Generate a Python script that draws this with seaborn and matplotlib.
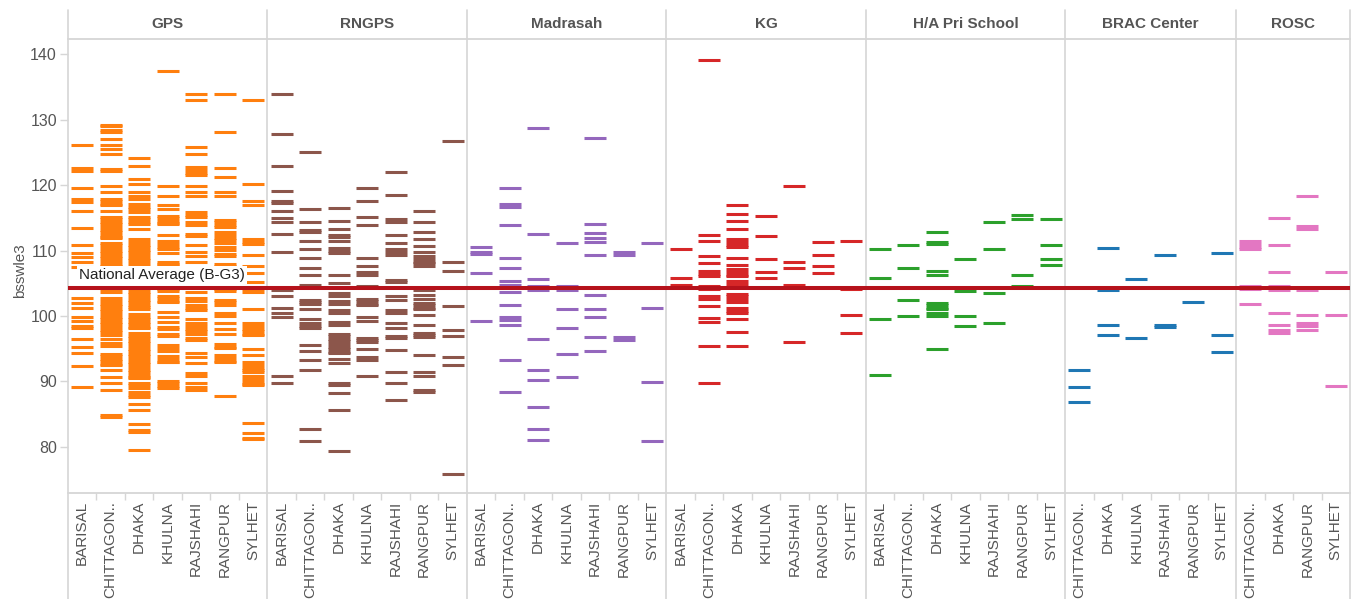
import warnings

import matplotlib
matplotlib.use("Agg")
import matplotlib.pyplot as plt
from matplotlib.lines import Line2D
import pandas as pd
import seaborn as sns

warnings.filterwarnings("ignore")

# ---- data: bsswle3 scores per school, grouped by school type and division ----
school_types = ["GPS", "RNGPS", "Madrasah", "KG", "H/A Pri School", "BRAC Center", "ROSC"]
type_colors = ["#ff7f0e", "#8c564b", "#9467bd", "#d62728", "#2ca02c", "#1f77b4", "#e377c2"]

gps = {
    "BARISAL": [126.2, 122.6, 122.1, 119.5, 117.9, 117.4, 116.0, 113.4, 110.8, 109.6, 109.0, 108.2,
                107.5, 102.7, 102.0, 101.2, 99.9, 99.3, 98.5, 98.1, 96.4, 95.3, 94.3, 92.3, 89.1],
    "CHITTAGONG": [129.2, 129.0, 128.4, 128.1, 127.0, 126.2, 125.5, 124.7, 122.5, 122.1, 119.8, 119.0,
                   117.95, 117.55, 117.15, 116.9, 116.1, 115.2, 114.8, 114.4, 114.0, 113.6, 113.2,
                   112.8, 112.4, 112.0, 111.85, 111.2, 110.8, 110.4, 110.0, 109.6, 109.2, 108.8,
                   108.4, 108.0, 107.7, 104.1, 103.7, 102.7, 102.3, 101.9, 101.5, 101.1, 100.7,
                   100.3, 99.9, 99.5, 99.1, 98.7, 98.3, 97.9, 97.5, 97.1, 96.4, 95.9, 95.4, 94.25,
                   93.85, 93.45, 93.05, 92.65, 92.5, 91.7, 90.7, 89.8, 88.6, 84.9, 84.5],
    "DHAKA": [124.2, 123.0, 121.0, 120.1, 119.0, 118.3, 117.95, 117.1, 116.7, 116.3, 115.9, 115.2,
              114.8, 114.4, 114.05, 113.3, 111.7, 111.3, 110.9, 110.5, 110.1, 109.7, 109.3, 108.9,
              108.5, 108.1, 107.7, 104.1, 103.7, 103.3, 102.9, 102.5, 102.1, 101.7, 101.3, 101.1,
              100.3, 99.9, 99.5, 99.1, 98.7, 98.3, 98.2, 97.4, 97.0, 96.6, 96.2, 95.8, 95.4, 95.0,
              94.6, 94.2, 93.8, 93.4, 93.0, 92.6, 92.2, 91.8, 91.4, 91.0, 90.6, 90.5, 89.8, 89.4,
              89.0, 88.3, 87.9, 87.55, 86.5, 85.6, 83.4, 82.6, 82.2, 79.5],
    "KHULNA": [137.5, 119.9, 118.3, 116.9, 116.3, 115.35, 114.95, 114.55, 114.15, 114.0, 112.3,
               111.4, 111.0, 110.6, 110.3, 109.6, 108.3, 107.9, 107.75, 104.1, 103.8, 103.1, 102.7,
               102.3, 102.1, 100.6, 99.8, 99.1, 98.35, 98.0, 97.3, 96.9, 95.5, 95.1, 94.7, 93.8,
               93.4, 93.0, 92.9, 90.1, 89.7, 89.3, 89.05],
    "RAJSHAHI": [133.9, 133.0, 125.8, 124.7, 122.7, 122.3, 121.9, 121.6, 119.8, 119.0, 118.3,
                 115.85, 115.45, 115.15, 114.3, 113.9, 112.6, 112.15, 110.8, 109.8, 109.1, 108.2,
                 103.6, 102.75, 102.35, 101.6, 101.2, 100.9, 99.6, 98.85, 98.45, 98.05, 97.65,
                 97.3, 96.7, 96.3, 94.3, 93.7, 92.75, 91.2, 90.8, 89.7, 89.1, 88.7],
    "RANGPUR": [134.0, 128.1, 122.6, 121.2, 119.0, 118.3, 114.7, 114.3, 113.9, 113.6, 112.9,
                112.35, 111.95, 111.55, 111.2, 110.55, 110.05, 109.5, 109.2, 108.0, 107.65, 104.1,
                103.8, 102.5, 102.1, 101.6, 100.4, 100.0, 98.9, 98.0, 97.3, 95.7, 95.3, 95.05,
                93.95, 93.55, 93.15, 92.9, 87.7],
    "SYLHET": [133.0, 120.1, 117.6, 116.9, 111.7, 111.3, 111.05, 109.3, 107.6, 106.6, 105.2, 104.1,
               103.7, 101.1, 98.85, 98.45, 98.05, 97.65, 97.25, 97.05, 94.9, 94.0, 92.9, 92.5, 92.1,
               91.7, 91.35, 90.75, 90.35, 89.95, 89.55, 89.4, 83.7, 82.05, 81.4, 81.15],
}

rngps = {
    "BARISAL": [134.0, 127.8, 123.0, 119.05, 117.5, 117.3, 116.0, 114.9, 114.3, 112.5, 109.7,
                103.9, 103.0, 101.2, 100.4, 99.9, 90.8, 89.8],
    "CHITTAGONG": [125.0, 116.3, 114.3, 113.2, 112.9, 111.4, 110.3, 108.8, 107.3, 106.2, 104.8,
                   102.5, 102.1, 101.85, 101.0, 99.5, 98.85, 98.45, 98.1, 95.5, 94.7, 93.2, 91.7,
                   82.7, 80.8],
    "DHAKA": [116.45, 114.45, 113.25, 112.3, 112.1, 111.4, 110.35, 109.95, 109.55, 106.2, 105.0,
              103.45, 103.0, 102.35, 101.9, 100.85, 100.4, 99.0, 98.55, 97.3, 96.9, 96.5, 96.1,
              95.7, 95.3, 94.9, 94.5, 94.4, 93.35, 92.75, 89.8, 89.4, 88.2, 85.6, 79.4],
    "KHULNA": [119.5, 117.5, 115.2, 113.9, 108.8, 107.7, 106.65, 106.2, 104.6, 102.65, 102.25,
               101.85, 101.6, 99.9, 99.3, 96.7, 96.3, 95.95, 94.9, 93.65, 93.3, 90.8],
    "RAJSHAHI": [121.95, 118.45, 114.75, 114.3, 112.3, 111.1, 110.3, 109.7, 109.25, 105.55,
                 105.25, 103.0, 102.4, 100.85, 100.4, 98.85, 98.1, 97.0, 96.55, 94.75, 91.35,
                 89.7, 87.2],
    "RANGPUR": [116.0, 114.3, 112.8, 111.7, 110.65, 109.7, 109.1, 108.7, 108.3, 108.15, 107.6,
                104.0, 103.15, 102.65, 102.05, 101.65, 101.25, 101.0, 100.1, 98.55, 97.45, 97.05,
                96.85, 94.0, 91.4, 90.75, 88.6, 88.3],
    "SYLHET": [126.7, 108.2, 106.8, 101.45, 97.8, 97.0, 93.65, 92.45, 75.8],
}

madrasah = {
    "BARISAL": [110.6, 109.85, 109.4, 106.5, 99.3],
    "CHITTAGONG": [119.5, 117.05, 116.6, 113.85, 108.8, 107.3, 105.3, 104.7, 103.6, 101.6, 99.9,
                   99.45, 98.55, 93.2, 88.3],
    "DHAKA": [128.8, 112.5, 105.6, 104.5, 104.0, 96.4, 91.7, 90.15, 86.0, 82.65, 81.1],
    "KHULNA": [111.1, 104.55, 104.0, 101.0, 98.1, 94.25, 90.6],
    "RAJSHAHI": [127.15, 114.0, 112.75, 111.85, 111.25, 109.25, 103.15, 101.0, 99.9, 96.85, 94.7],
    "RANGPUR": [109.7, 109.3, 96.85, 96.25],
    "SYLHET": [111.1, 101.15, 89.85, 80.95],
}

kg = {
    "BARISAL": [110.3, 105.75, 104.75],
    "CHITTAGONG": [139.1, 112.3, 111.4, 109.1, 108.05, 106.8, 106.4, 106.15, 104.5, 104.1, 103.0,
                   102.65, 101.55, 99.65, 99.0, 95.35, 89.7],
    "DHAKA": [116.95, 115.55, 114.45, 113.25, 111.7, 111.3, 110.9, 110.6, 108.8, 107.75, 107.1,
              106.7, 106.3, 106.15, 105.4, 104.95, 103.4, 103.0, 102.65, 102.1, 101.15, 100.7,
              100.5, 99.5, 97.5, 95.35],
    "KHULNA": [115.25, 112.2, 108.65, 106.65, 105.75],
    "RAJSHAHI": [119.8, 108.2, 107.3, 104.75, 95.95],
    "RANGPUR": [111.25, 109.25, 107.6, 106.5],
    "SYLHET": [111.4, 104.05, 100.1, 97.35],
}

ha_pri = {
    "BARISAL": [110.3, 105.75, 99.5, 90.9],
    "CHITTAGONG": [110.8, 107.3, 102.5, 99.95],
    "DHAKA": [112.9, 111.25, 111.05, 106.8, 106.2, 102.05, 101.65, 101.25, 101.1, 100.5, 100.05,
              94.9],
    "KHULNA": [108.65, 103.85, 99.95, 98.4],
    "RAJSHAHI": [114.3, 110.2, 103.45, 98.85],
    "RANGPUR": [115.5, 114.75, 106.2, 104.65],
    "SYLHET": [114.75, 110.8, 108.65, 107.75],
}

brac = {
    "CHITTAGONG": [91.7, 89.1, 86.8],
    "DHAKA": [110.35, 103.9, 98.55, 97.05],
    "KHULNA": [105.6, 96.55],
    "RAJSHAHI": [109.25, 98.6, 98.35],
    "RANGPUR": [102.1],
    "SYLHET": [109.55, 97.05, 94.45],
}

rosc = {
    "CHITTAGONG": [111.4, 111.0, 110.6, 110.3, 104.5, 104.05, 101.9],
    "DHAKA": [114.9, 110.8, 106.65, 104.65, 104.25, 103.9, 100.4, 98.55, 97.8, 97.45],
    "RANGPUR": [118.3, 113.7, 113.35, 103.9, 100.1, 98.85, 98.4, 97.8],
    "SYLHET": [106.65, 100.1, 89.25],
}

national_average = 104.27
average_label = "National Average (B-G3)"
y_ticks = [80, 90, 100, 110, 120, 130, 140]

panel_tables = [gps, rngps, madrasah, kg, ha_pri, brac, rosc]

# ---- long-form table ----
rows = []
for school, table in zip(school_types, panel_tables):
    for division, values in table.items():
        for v in values:
            rows.append((school, division, v))
df = pd.DataFrame(rows, columns=["school_type", "division", "bsswle3"])

# ---- styling ----
sns.set_style("white")
plt.rcParams["font.family"] = ["Liberation Sans", "DejaVu Sans"]

W, H = 1357, 599
grid_gray = "#d6d6d6"
text_gray = "#555555"
avg_color = "#b5121b"

fig, axes = plt.subplots(
    1, len(school_types), figsize=(W / 100, H / 100), dpi=100, sharey=True,
    gridspec_kw=dict(width_ratios=[len(t) for t in panel_tables], wspace=0),
)
fig.subplots_adjust(left=68 / W, right=1350 / W, top=1 - 38.7 / H, bottom=1 - 492.7 / H)


def short_label(name):
    return name if len(name) <= 9 else name[:9] + ".."


for i, (ax, school, table, color) in enumerate(zip(axes, school_types, panel_tables, type_colors)):
    order = list(table.keys())
    sub = df[df["school_type"] == school]
    sns.stripplot(
        data=sub, x="division", y="bsswle3", order=order, jitter=False,
        marker="_", size=15.8, linewidth=2.2, color=color, ax=ax, zorder=2,
    )
    ax.axhline(national_average, color=avg_color, lw=2.9, zorder=4)

    ax.set_facecolor("none")
    ax.set_xlim(-0.5, len(order) - 0.5)
    ax.set_ylim(72.97, 142.39)
    ax.set_xlabel("")
    ax.set_ylabel("")

    ax.set_xticks(range(len(order)))
    ax.set_xticklabels([short_label(d) for d in order], rotation=90, fontsize=11,
                       color=text_gray, va="top", ha="center")
    ax.set_xticks([k + 0.5 for k in range(len(order) - 1)], minor=True)
    ax.tick_params(axis="x", which="major", length=0, pad=6)
    ax.tick_params(axis="x", which="minor", bottom=True, length=5, width=1, color=grid_gray)

    for side in ("left", "right"):
        ax.spines[side].set_visible(False)
    for side in ("top", "bottom"):
        ax.spines[side].set_visible(True)
        ax.spines[side].set_color(grid_gray)
        ax.spines[side].set_linewidth(1.3)

    if i == 0:
        ax.set_yticks(y_ticks)
        ax.tick_params(axis="y", left=True, length=6, width=1, color=grid_gray,
                       labelcolor=text_gray, labelsize=11.5, pad=2)
        ax.set_ylabel("bsswle3", fontsize=11, color=text_gray)
        ax.yaxis.set_label_coords(-0.205, 0.49)
        ax.text(-0.12, 106.25, average_label, ha="left", va="center", fontsize=11,
                color="#222222", zorder=5,
                bbox=dict(facecolor="white", edgecolor="none", pad=1.5))
    else:
        ax.tick_params(axis="y", left=False)

    # panel header
    pos = ax.get_position()
    fig.text((pos.x0 + pos.x1) / 2, 1 - 24.5 / H, school, ha="center", va="center",
             fontsize=11, fontweight="bold", color=text_gray)

# panel separators running through header and label areas
edges = [ax.get_position().x0 for ax in axes] + [axes[-1].get_position().x1]
for x in edges:
    fig.add_artist(Line2D([x, x], [0, 1 - 10 / H], transform=fig.transFigure,
                          color=grid_gray, lw=1.2, zorder=-1))

fig.savefig("out.png", dpi=100)
